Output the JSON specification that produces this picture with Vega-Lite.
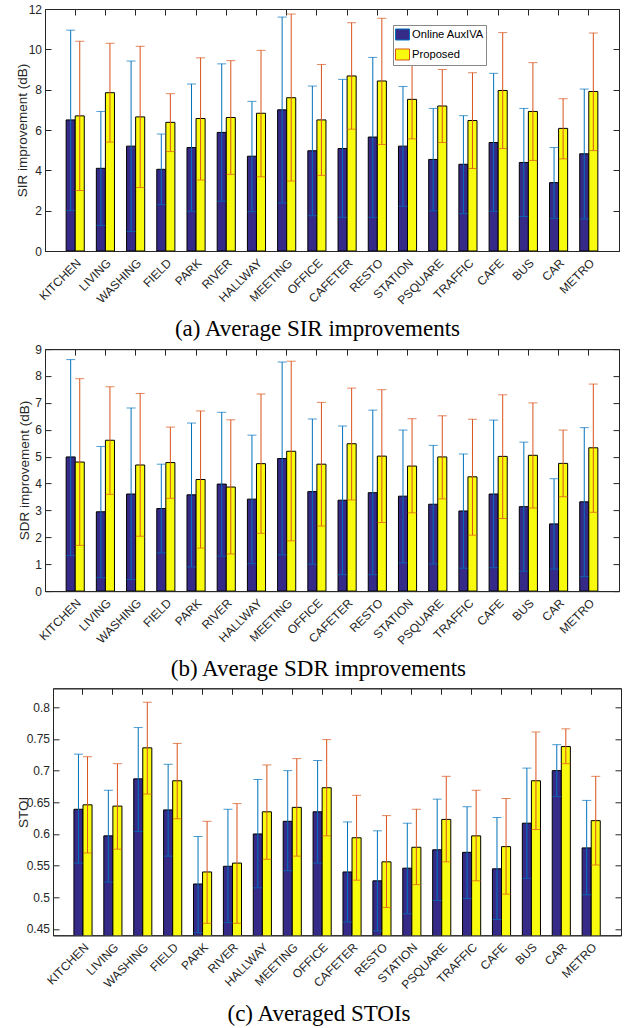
{
  "$schema": "https://vega.github.io/schema/vega-lite/v6.json",
  "padding": {"left": 14, "top": 2, "right": 5, "bottom": 0},
  "spacing": 5.3,
  "config": {
    "font": "Liberation Sans",
    "view": {"stroke": "#262626", "strokeWidth": 1},
    "axis": {"grid": false, "domainColor": "#262626", "tickColor": "#262626", "labelColor": "#262626", "titleColor": "#262626", "labelFontSize": 12, "titleFontSize": 13.5, "titleFontWeight": "normal", "tickSize": -6},
    "title": {"orient": "bottom", "frame": "bounds", "anchor": "middle", "font": "Liberation Serif", "fontSize": 23, "fontWeight": "normal", "color": "black", "offset": 12},
    "legend": {"orient": "none", "title": null, "labelFontSize": 11.2, "labelColor": "#000000", "symbolType": "M-1,-0.786H1V0.786H-1Z", "symbolSize": 196, "symbolStrokeColor": "#000000", "symbolStrokeWidth": 1, "symbolOpacity": 1, "strokeColor": "#888888", "fillColor": "#ffffff", "padding": 2, "rowPadding": 3, "labelOffset": 2}
  },
  "datasets": {
    "sir": [
      {"env": "KITCHEN", "method": "Online AuxIVA", "mean": 6.5, "lo": 2.0, "hi": 10.95},
      {"env": "KITCHEN", "method": "Proposed", "mean": 6.7, "lo": 3.0, "hi": 10.4},
      {"env": "LIVING", "method": "Online AuxIVA", "mean": 4.1, "lo": 1.27, "hi": 6.92},
      {"env": "LIVING", "method": "Proposed", "mean": 7.85, "lo": 5.4, "hi": 10.3},
      {"env": "WASHING", "method": "Online AuxIVA", "mean": 5.2, "lo": 0.97, "hi": 9.42},
      {"env": "WASHING", "method": "Proposed", "mean": 6.65, "lo": 3.15, "hi": 10.15},
      {"env": "FIELD", "method": "Online AuxIVA", "mean": 4.05, "lo": 2.3, "hi": 5.8},
      {"env": "FIELD", "method": "Proposed", "mean": 6.38, "lo": 4.93, "hi": 7.8},
      {"env": "PARK", "method": "Online AuxIVA", "mean": 5.13, "lo": 1.97, "hi": 8.28},
      {"env": "PARK", "method": "Proposed", "mean": 6.57, "lo": 3.52, "hi": 9.58},
      {"env": "RIVER", "method": "Online AuxIVA", "mean": 5.88, "lo": 2.47, "hi": 9.28},
      {"env": "RIVER", "method": "Proposed", "mean": 6.62, "lo": 3.8, "hi": 9.44},
      {"env": "HALLWAY", "method": "Online AuxIVA", "mean": 4.7, "lo": 1.95, "hi": 7.42},
      {"env": "HALLWAY", "method": "Proposed", "mean": 6.83, "lo": 3.68, "hi": 9.95},
      {"env": "MEETING", "method": "Online AuxIVA", "mean": 7.0, "lo": 2.38, "hi": 11.6},
      {"env": "MEETING", "method": "Proposed", "mean": 7.6, "lo": 3.47, "hi": 11.75},
      {"env": "OFFICE", "method": "Online AuxIVA", "mean": 4.97, "lo": 1.75, "hi": 8.18},
      {"env": "OFFICE", "method": "Proposed", "mean": 6.5, "lo": 3.75, "hi": 9.25},
      {"env": "CAFETER", "method": "Online AuxIVA", "mean": 5.08, "lo": 1.67, "hi": 8.51},
      {"env": "CAFETER", "method": "Proposed", "mean": 8.68, "lo": 6.04, "hi": 11.32},
      {"env": "RESTO", "method": "Online AuxIVA", "mean": 5.65, "lo": 1.67, "hi": 9.6},
      {"env": "RESTO", "method": "Proposed", "mean": 8.43, "lo": 5.28, "hi": 11.54},
      {"env": "STATION", "method": "Online AuxIVA", "mean": 5.2, "lo": 2.22, "hi": 8.16},
      {"env": "STATION", "method": "Proposed", "mean": 7.52, "lo": 5.56, "hi": 9.47},
      {"env": "PSQUARE", "method": "Online AuxIVA", "mean": 4.54, "lo": 1.99, "hi": 7.07},
      {"env": "PSQUARE", "method": "Proposed", "mean": 7.19, "lo": 5.38, "hi": 9.0},
      {"env": "TRAFFIC", "method": "Online AuxIVA", "mean": 4.3, "lo": 1.85, "hi": 6.71},
      {"env": "TRAFFIC", "method": "Proposed", "mean": 6.47, "lo": 4.09, "hi": 8.84},
      {"env": "CAFE", "method": "Online AuxIVA", "mean": 5.38, "lo": 1.97, "hi": 8.81},
      {"env": "CAFE", "method": "Proposed", "mean": 7.96, "lo": 5.08, "hi": 10.83},
      {"env": "BUS", "method": "Online AuxIVA", "mean": 4.39, "lo": 1.71, "hi": 7.07},
      {"env": "BUS", "method": "Proposed", "mean": 6.92, "lo": 4.49, "hi": 9.34},
      {"env": "CAR", "method": "Online AuxIVA", "mean": 3.39, "lo": 1.62, "hi": 5.13},
      {"env": "CAR", "method": "Proposed", "mean": 6.08, "lo": 4.57, "hi": 7.55},
      {"env": "METRO", "method": "Online AuxIVA", "mean": 4.82, "lo": 1.59, "hi": 8.03},
      {"env": "METRO", "method": "Proposed", "mean": 7.91, "lo": 4.98, "hi": 10.81}
    ],
    "sdr": [
      {"env": "KITCHEN", "method": "Online AuxIVA", "mean": 4.99, "lo": 1.32, "hi": 8.61},
      {"env": "KITCHEN", "method": "Proposed", "mean": 4.8, "lo": 1.7, "hi": 7.9},
      {"env": "LIVING", "method": "Online AuxIVA", "mean": 2.95, "lo": 0.5, "hi": 5.38},
      {"env": "LIVING", "method": "Proposed", "mean": 5.61, "lo": 3.6, "hi": 7.6},
      {"env": "WASHING", "method": "Online AuxIVA", "mean": 3.61, "lo": 0.43, "hi": 6.81},
      {"env": "WASHING", "method": "Proposed", "mean": 4.69, "lo": 2.04, "hi": 7.35},
      {"env": "FIELD", "method": "Online AuxIVA", "mean": 3.07, "lo": 1.42, "hi": 4.72},
      {"env": "FIELD", "method": "Proposed", "mean": 4.78, "lo": 3.45, "hi": 6.1},
      {"env": "PARK", "method": "Online AuxIVA", "mean": 3.58, "lo": 0.9, "hi": 6.25},
      {"env": "PARK", "method": "Proposed", "mean": 4.15, "lo": 1.6, "hi": 6.7},
      {"env": "RIVER", "method": "Online AuxIVA", "mean": 3.98, "lo": 1.3, "hi": 6.65},
      {"env": "RIVER", "method": "Proposed", "mean": 3.87, "lo": 1.38, "hi": 6.37},
      {"env": "HALLWAY", "method": "Online AuxIVA", "mean": 3.42, "lo": 1.02, "hi": 5.8},
      {"env": "HALLWAY", "method": "Proposed", "mean": 4.74, "lo": 2.15, "hi": 7.33},
      {"env": "MEETING", "method": "Online AuxIVA", "mean": 4.93, "lo": 1.35, "hi": 8.52},
      {"env": "MEETING", "method": "Proposed", "mean": 5.2, "lo": 1.87, "hi": 8.55},
      {"env": "OFFICE", "method": "Online AuxIVA", "mean": 3.7, "lo": 1.0, "hi": 6.4},
      {"env": "OFFICE", "method": "Proposed", "mean": 4.72, "lo": 2.42, "hi": 7.02},
      {"env": "CAFETER", "method": "Online AuxIVA", "mean": 3.38, "lo": 0.61, "hi": 6.14},
      {"env": "CAFETER", "method": "Proposed", "mean": 5.48, "lo": 3.39, "hi": 7.55},
      {"env": "RESTO", "method": "Online AuxIVA", "mean": 3.66, "lo": 0.61, "hi": 6.73},
      {"env": "RESTO", "method": "Proposed", "mean": 5.02, "lo": 2.55, "hi": 7.49},
      {"env": "STATION", "method": "Online AuxIVA", "mean": 3.53, "lo": 1.05, "hi": 5.99},
      {"env": "STATION", "method": "Proposed", "mean": 4.65, "lo": 2.91, "hi": 6.41},
      {"env": "PSQUARE", "method": "Online AuxIVA", "mean": 3.23, "lo": 1.01, "hi": 5.42},
      {"env": "PSQUARE", "method": "Proposed", "mean": 4.99, "lo": 3.43, "hi": 6.52},
      {"env": "TRAFFIC", "method": "Online AuxIVA", "mean": 2.98, "lo": 0.85, "hi": 5.1},
      {"env": "TRAFFIC", "method": "Proposed", "mean": 4.25, "lo": 2.08, "hi": 6.39},
      {"env": "CAFE", "method": "Online AuxIVA", "mean": 3.61, "lo": 0.87, "hi": 6.36},
      {"env": "CAFE", "method": "Proposed", "mean": 5.01, "lo": 2.7, "hi": 7.3},
      {"env": "BUS", "method": "Online AuxIVA", "mean": 3.14, "lo": 0.74, "hi": 5.54},
      {"env": "BUS", "method": "Proposed", "mean": 5.05, "lo": 3.09, "hi": 7.0},
      {"env": "CAR", "method": "Online AuxIVA", "mean": 2.5, "lo": 0.82, "hi": 4.18},
      {"env": "CAR", "method": "Proposed", "mean": 4.75, "lo": 3.51, "hi": 5.99},
      {"env": "METRO", "method": "Online AuxIVA", "mean": 3.32, "lo": 0.54, "hi": 6.08},
      {"env": "METRO", "method": "Proposed", "mean": 5.33, "lo": 2.93, "hi": 7.7}
    ],
    "stoi": [
      {"env": "KITCHEN", "method": "Online AuxIVA", "mean": 0.639, "lo": 0.554, "hi": 0.726},
      {"env": "KITCHEN", "method": "Proposed", "mean": 0.646, "lo": 0.57, "hi": 0.722},
      {"env": "LIVING", "method": "Online AuxIVA", "mean": 0.597, "lo": 0.524, "hi": 0.669},
      {"env": "LIVING", "method": "Proposed", "mean": 0.644, "lo": 0.576, "hi": 0.711},
      {"env": "WASHING", "method": "Online AuxIVA", "mean": 0.687, "lo": 0.604, "hi": 0.768},
      {"env": "WASHING", "method": "Proposed", "mean": 0.736, "lo": 0.663, "hi": 0.808},
      {"env": "FIELD", "method": "Online AuxIVA", "mean": 0.638, "lo": 0.565, "hi": 0.71},
      {"env": "FIELD", "method": "Proposed", "mean": 0.684, "lo": 0.624, "hi": 0.743},
      {"env": "PARK", "method": "Online AuxIVA", "mean": 0.521, "lo": 0.444, "hi": 0.596},
      {"env": "PARK", "method": "Proposed", "mean": 0.54, "lo": 0.459, "hi": 0.62},
      {"env": "RIVER", "method": "Online AuxIVA", "mean": 0.549, "lo": 0.46, "hi": 0.639},
      {"env": "RIVER", "method": "Proposed", "mean": 0.554, "lo": 0.459, "hi": 0.648},
      {"env": "HALLWAY", "method": "Online AuxIVA", "mean": 0.6, "lo": 0.515, "hi": 0.686},
      {"env": "HALLWAY", "method": "Proposed", "mean": 0.635, "lo": 0.56, "hi": 0.709},
      {"env": "MEETING", "method": "Online AuxIVA", "mean": 0.62, "lo": 0.542, "hi": 0.7},
      {"env": "MEETING", "method": "Proposed", "mean": 0.642, "lo": 0.565, "hi": 0.719},
      {"env": "OFFICE", "method": "Online AuxIVA", "mean": 0.635, "lo": 0.554, "hi": 0.716},
      {"env": "OFFICE", "method": "Proposed", "mean": 0.673, "lo": 0.597, "hi": 0.749},
      {"env": "CAFETER", "method": "Online AuxIVA", "mean": 0.54, "lo": 0.461, "hi": 0.619},
      {"env": "CAFETER", "method": "Proposed", "mean": 0.594, "lo": 0.527, "hi": 0.661},
      {"env": "RESTO", "method": "Online AuxIVA", "mean": 0.526, "lo": 0.447, "hi": 0.605},
      {"env": "RESTO", "method": "Proposed", "mean": 0.556, "lo": 0.484, "hi": 0.629},
      {"env": "STATION", "method": "Online AuxIVA", "mean": 0.546, "lo": 0.474, "hi": 0.617},
      {"env": "STATION", "method": "Proposed", "mean": 0.579, "lo": 0.52, "hi": 0.639},
      {"env": "PSQUARE", "method": "Online AuxIVA", "mean": 0.575, "lo": 0.495, "hi": 0.655},
      {"env": "PSQUARE", "method": "Proposed", "mean": 0.623, "lo": 0.556, "hi": 0.691},
      {"env": "TRAFFIC", "method": "Online AuxIVA", "mean": 0.571, "lo": 0.498, "hi": 0.643},
      {"env": "TRAFFIC", "method": "Proposed", "mean": 0.597, "lo": 0.526, "hi": 0.669},
      {"env": "CAFE", "method": "Online AuxIVA", "mean": 0.545, "lo": 0.465, "hi": 0.626},
      {"env": "CAFE", "method": "Proposed", "mean": 0.58, "lo": 0.505, "hi": 0.656},
      {"env": "BUS", "method": "Online AuxIVA", "mean": 0.617, "lo": 0.53, "hi": 0.704},
      {"env": "BUS", "method": "Proposed", "mean": 0.684, "lo": 0.607, "hi": 0.761},
      {"env": "CAR", "method": "Online AuxIVA", "mean": 0.7, "lo": 0.659, "hi": 0.741},
      {"env": "CAR", "method": "Proposed", "mean": 0.738, "lo": 0.711, "hi": 0.766},
      {"env": "METRO", "method": "Online AuxIVA", "mean": 0.578, "lo": 0.504, "hi": 0.653},
      {"env": "METRO", "method": "Proposed", "mean": 0.621, "lo": 0.551, "hi": 0.691}
    ]
  },
  "vconcat": [
    {
      "spacing": 0.1,
      "vconcat": [
        {
          "width": 574, "height": 242,
          "data": {"name": "sir"},
          "title": {"text": "(a) Average SIR improvements"},
          "resolve": {"axis": {"x": "independent", "y": "independent"}},
          "layer": [
            {
              "mark": {"type": "bar", "stroke": "#000000", "strokeWidth": 1, "clip": true},
              "encoding": {
                "x": {"field": "env", "type": "nominal", "sort": null, "scale": {"paddingInner": 0.4, "paddingOuter": 0.7}, "axis": {"orient": "bottom", "title": null, "labelAngle": -45, "labelAlign": "right", "labelBaseline": "top", "labelPadding": 12}},
                "xOffset": {"field": "method", "type": "nominal", "sort": ["Online AuxIVA", "Proposed"], "scale": {"paddingInner": 0, "paddingOuter": 0}},
                "y": {"field": "mean", "type": "quantitative", "scale": {"domain": [0, 12], "nice": false}, "axis": {"title": "SIR improvement (dB)", "values": [0, 2, 4, 6, 8, 10, 12], "labelPadding": 9.5, "titlePadding": -1.3}},
                "color": {"field": "method", "type": "nominal", "sort": ["Online AuxIVA", "Proposed"], "scale": {"domain": ["Online AuxIVA", "Proposed"], "range": ["#352A87", "#F9FB0E"]}, "legend": {"legendX": 348, "legendY": 16}}
              }
            },
            {
              "mark": {"type": "rule", "strokeWidth": 1},
              "encoding": {
                "x": {"field": "env", "type": "nominal", "sort": null, "axis": {"orient": "top", "title": null, "labels": false}},
                "xOffset": {"field": "method", "type": "nominal", "sort": ["Online AuxIVA", "Proposed"]},
                "y": {"field": "lo", "type": "quantitative", "axis": {"orient": "right", "title": null, "labels": false, "values": [0, 2, 4, 6, 8, 10, 12]}},
                "y2": {"field": "hi"},
                "stroke": {"field": "method", "type": "nominal", "scale": {"domain": ["Online AuxIVA", "Proposed"], "range": ["#0072BD", "#D95319"]}, "legend": null}
              }
            },
            {
              "mark": {"type": "tick", "size": 9, "thickness": 1},
              "encoding": {
                "x": {"field": "env", "type": "nominal", "sort": null, "axis": null},
                "xOffset": {"field": "method", "type": "nominal", "sort": ["Online AuxIVA", "Proposed"]},
                "y": {"field": "lo", "type": "quantitative", "axis": null},
                "fill": {"field": "method", "type": "nominal", "scale": {"domain": ["Online AuxIVA", "Proposed"], "range": ["#0072BD", "#D95319"]}, "legend": null}
              }
            },
            {
              "mark": {"type": "tick", "size": 9, "thickness": 1},
              "encoding": {
                "x": {"field": "env", "type": "nominal", "sort": null, "axis": null},
                "xOffset": {"field": "method", "type": "nominal", "sort": ["Online AuxIVA", "Proposed"]},
                "y": {"field": "hi", "type": "quantitative", "axis": null},
                "fill": {"field": "method", "type": "nominal", "scale": {"domain": ["Online AuxIVA", "Proposed"], "range": ["#0072BD", "#D95319"]}, "legend": null}
              }
            }
          ]
        },
        {
          "width": 574, "height": 242,
          "data": {"name": "sdr"},
          "title": {"text": "(b) Average SDR improvements"},
          "resolve": {"axis": {"x": "independent", "y": "independent"}},
          "layer": [
            {
              "mark": {"type": "bar", "stroke": "#000000", "strokeWidth": 1, "clip": true},
              "encoding": {
                "x": {"field": "env", "type": "nominal", "sort": null, "scale": {"paddingInner": 0.4, "paddingOuter": 0.7}, "axis": {"orient": "bottom", "title": null, "labelAngle": -45, "labelAlign": "right", "labelBaseline": "top", "labelPadding": 12}},
                "xOffset": {"field": "method", "type": "nominal", "sort": ["Online AuxIVA", "Proposed"], "scale": {"paddingInner": 0, "paddingOuter": 0}},
                "y": {"field": "mean", "type": "quantitative", "scale": {"domain": [0, 9], "nice": false}, "axis": {"title": "SDR improvement (dB)", "values": [0, 1, 2, 3, 4, 5, 6, 7, 8, 9], "labelPadding": 9.5, "titlePadding": 3.5}},
                "color": {"field": "method", "type": "nominal", "sort": ["Online AuxIVA", "Proposed"], "scale": {"domain": ["Online AuxIVA", "Proposed"], "range": ["#352A87", "#F9FB0E"]}, "legend": {"legendX": 351, "legendY": 18}}
              }
            },
            {
              "mark": {"type": "rule", "strokeWidth": 1},
              "encoding": {
                "x": {"field": "env", "type": "nominal", "sort": null, "axis": {"orient": "top", "title": null, "labels": false}},
                "xOffset": {"field": "method", "type": "nominal", "sort": ["Online AuxIVA", "Proposed"]},
                "y": {"field": "lo", "type": "quantitative", "axis": {"orient": "right", "title": null, "labels": false, "values": [0, 1, 2, 3, 4, 5, 6, 7, 8, 9]}},
                "y2": {"field": "hi"},
                "stroke": {"field": "method", "type": "nominal", "scale": {"domain": ["Online AuxIVA", "Proposed"], "range": ["#0072BD", "#D95319"]}, "legend": null}
              }
            },
            {
              "mark": {"type": "tick", "size": 9, "thickness": 1},
              "encoding": {
                "x": {"field": "env", "type": "nominal", "sort": null, "axis": null},
                "xOffset": {"field": "method", "type": "nominal", "sort": ["Online AuxIVA", "Proposed"]},
                "y": {"field": "lo", "type": "quantitative", "axis": null},
                "fill": {"field": "method", "type": "nominal", "scale": {"domain": ["Online AuxIVA", "Proposed"], "range": ["#0072BD", "#D95319"]}, "legend": null}
              }
            },
            {
              "mark": {"type": "tick", "size": 9, "thickness": 1},
              "encoding": {
                "x": {"field": "env", "type": "nominal", "sort": null, "axis": null},
                "xOffset": {"field": "method", "type": "nominal", "sort": ["Online AuxIVA", "Proposed"]},
                "y": {"field": "hi", "type": "quantitative", "axis": null},
                "fill": {"field": "method", "type": "nominal", "scale": {"domain": ["Online AuxIVA", "Proposed"], "range": ["#0072BD", "#D95319"]}, "legend": null}
              }
            }
          ]
        }
      ]
    },
    {
      "spacing": -30,
      "hconcat": [
        {
          "width": 1, "height": 1,
          "view": {"stroke": null},
          "data": {"values": []},
          "mark": "point",
          "encoding": {}
        },
        {
          "width": 568, "height": 247,
          "data": {"name": "stoi"},
          "title": {"text": "(c) Averaged STOIs"},
          "resolve": {"axis": {"x": "independent", "y": "independent"}},
          "layer": [
            {
              "mark": {"type": "bar", "stroke": "#000000", "strokeWidth": 1, "clip": true},
              "encoding": {
                "x": {"field": "env", "type": "nominal", "sort": null, "scale": {"paddingInner": 0.4, "paddingOuter": 0.7}, "axis": {"orient": "bottom", "title": null, "labelAngle": -45, "labelAlign": "right", "labelBaseline": "top", "labelPadding": 12}},
                "xOffset": {"field": "method", "type": "nominal", "sort": ["Online AuxIVA", "Proposed"], "scale": {"paddingInner": 0, "paddingOuter": 0}},
                "y": {"field": "mean", "type": "quantitative", "scale": {"domain": [0.44, 0.83], "nice": false, "zero": false}, "axis": {"title": "STOI", "values": [0.45, 0.5, 0.55, 0.6, 0.65, 0.7, 0.75, 0.8], "format": ".2~f", "labelPadding": 9.5, "titlePadding": -4.4}},
                "color": {"field": "method", "type": "nominal", "sort": ["Online AuxIVA", "Proposed"], "scale": {"domain": ["Online AuxIVA", "Proposed"], "range": ["#352A87", "#F9FB0E"]}, "legend": {"legendX": 347, "legendY": 19}}
              }
            },
            {
              "mark": {"type": "rule", "strokeWidth": 1},
              "encoding": {
                "x": {"field": "env", "type": "nominal", "sort": null, "axis": {"orient": "top", "title": null, "labels": false}},
                "xOffset": {"field": "method", "type": "nominal", "sort": ["Online AuxIVA", "Proposed"]},
                "y": {"field": "lo", "type": "quantitative", "axis": {"orient": "right", "title": null, "labels": false, "values": [0.45, 0.5, 0.55, 0.6, 0.65, 0.7, 0.75, 0.8]}},
                "y2": {"field": "hi"},
                "stroke": {"field": "method", "type": "nominal", "scale": {"domain": ["Online AuxIVA", "Proposed"], "range": ["#0072BD", "#D95319"]}, "legend": null}
              }
            },
            {
              "mark": {"type": "tick", "size": 9, "thickness": 1},
              "encoding": {
                "x": {"field": "env", "type": "nominal", "sort": null, "axis": null},
                "xOffset": {"field": "method", "type": "nominal", "sort": ["Online AuxIVA", "Proposed"]},
                "y": {"field": "lo", "type": "quantitative", "axis": null},
                "fill": {"field": "method", "type": "nominal", "scale": {"domain": ["Online AuxIVA", "Proposed"], "range": ["#0072BD", "#D95319"]}, "legend": null}
              }
            },
            {
              "mark": {"type": "tick", "size": 9, "thickness": 1},
              "encoding": {
                "x": {"field": "env", "type": "nominal", "sort": null, "axis": null},
                "xOffset": {"field": "method", "type": "nominal", "sort": ["Online AuxIVA", "Proposed"]},
                "y": {"field": "hi", "type": "quantitative", "axis": null},
                "fill": {"field": "method", "type": "nominal", "scale": {"domain": ["Online AuxIVA", "Proposed"], "range": ["#0072BD", "#D95319"]}, "legend": null}
              }
            }
          ]
        }
      ]
    }
  ]
}
